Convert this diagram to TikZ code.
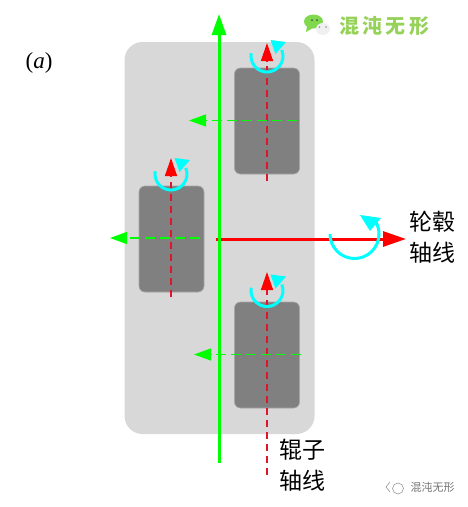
\documentclass[tikz,border=0pt]{standalone}
\usepackage{fontspec}
\setmainfont{Liberation Serif}
\newfontfamily\cjk{Noto Sans CJK SC}
\usetikzlibrary{arrows.meta,calc,positioning}
\definecolor{rlgreen}{RGB}{0,255,0}
\definecolor{rlred}{RGB}{255,0,0}
\definecolor{rldash}{RGB}{225,20,45}
\definecolor{rlcyan}{RGB}{0,255,255}
\definecolor{rlbody}{RGB}{216,216,216}
\definecolor{rlroller}{RGB}{128,128,128}
\definecolor{rlmark}{RGB}{150,210,90}
\newcommand{\spinmark}[1]{%
  \draw[spinarc,shift={#1}] (190:16) arc (190:-22:16);
  \fill[rlcyan,shift={#1}] (3.5,-16)--(19,-14)--(8.5,-2)--cycle;
}
\tikzset{
  rollerbox/.style={draw=black!35,line width=.6pt,fill=rlroller,rounded corners=6pt,minimum width=65pt,minimum height=106pt,inner sep=0pt},
  bigaxis/.style={draw=rlgreen,line width=3pt,-{Triangle[length=21pt,width=14pt]}},
  hubaxis/.style={draw=rlred,line width=3pt,-{Triangle[length=23pt,width=15pt]}},
  rolleraxis/.style={draw=rldash,line width=1.4pt,dash pattern=on 7pt off 5pt,-{Triangle[length=18pt,width=12pt,color=rlred]}},
  slipaxis/.style={draw=rlgreen,line width=1.4pt,dash pattern=on 10pt off 5pt,-{Triangle[length=17pt,width=12pt]}},
  spinarc/.style={draw=rlcyan,line width=3pt},
  axislabel/.style={font=\cjk\fontsize{23}{31}\selectfont,align=left,inner sep=0pt}
}
\begin{document}
\begin{tikzpicture}[x=1pt,y=-1pt]
    \useasboundingbox (0,0) rectangle (468,507);
    \node[fill=rlbody,rounded corners=18pt,minimum width=190pt,minimum height=392pt,inner sep=0pt] (body) at (219.5,238) {};
    \node[rollerbox] (rollertop) at (267,121) {};
    \node[rollerbox] (rollerleft) at (171.5,239) {};
    \node[rollerbox] (rollerbot) at (267,355) {};
    \node[font=\fontsize{23}{25}\selectfont,inner sep=0pt] (tag) at (39,63) {(\textit{a})};
    \node[axislabel,anchor=west] (hublabel) at (409,237) {轮毂\\轴线};
    \node[axislabel,anchor=west] (rollerlabel) at (279,465) {辊子\\轴线};
    % axes of the rollers
    \coordinate (topfoot) at (267,181);
    \coordinate (toptip) at (267,43);
    \coordinate (leftfoot) at (171,297);
    \coordinate (lefttip) at (171,158);
    \coordinate (botfoot) at (267,475);
    \coordinate (bottip) at (267,272);
    \draw[rolleraxis] (topfoot)--(toptip);
    \draw[rolleraxis] (leftfoot)--(lefttip);
    \draw[rolleraxis] (botfoot)--(bottip);
    % slip directions
    \coordinate (topend) at (297,120.5);
    \coordinate (topslip) at (189,120.5);
    \coordinate (leftend) at (200,238);
    \coordinate (leftslip) at (110,238);
    \coordinate (botend) at (301,354.5);
    \coordinate (botslip) at (194,354.5);
    \draw[slipaxis] (topend)--(topslip);
    \draw[slipaxis] (leftend)--(leftslip);
    \draw[slipaxis] (botend)--(botslip);
    % hub and wheel axes
    \coordinate (origin) at (216,239);
    \coordinate (hubtip) at (406,239);
    \coordinate (axisfoot) at (219,463);
    \coordinate (axistip) at (219,14);
    \draw[hubaxis] (origin)--(hubtip);
    \draw[bigaxis] (axisfoot)--(axistip);
    % spins
    \spinmark{(267,56)}
    \spinmark{(171,174)}
    \spinmark{(267,290.5)}
    \draw[spinarc] (330,234) arc (180:-30:24.5);
    \fill[rlcyan] (360,215)--(381,218)--(370,231)--cycle;
    % watermark top
    \fill[rlmark!85!green] (313.5,21.5) ellipse (9.5pt and 7pt);
    \fill[rlmark!85!green] (307,26)--(306,32)--(313,28)--cycle;
    \fill[black!70] (312,20) circle (1pt) (317,20) circle (1pt);
    \fill[black!6] (323,29) ellipse (7pt and 6pt);
    \fill[black!45] (319.5,27) circle (.8pt) (326,27) circle (.8pt);
    \node[font=\cjk\bfseries\fontsize{20}{20}\selectfont,text=rlmark,inner sep=0pt] (brand) at (384,26) {混\,沌\,无\,形};
    % watermark bottom
    \draw[black!40,line width=.6pt] (398,488.5) circle (5.5pt);
    \draw[black!40,line width=.6pt] (390,482)--(386,487)--(390,492);
    \node[font=\cjk\fontsize{11}{12}\selectfont,text=black!55,inner sep=0pt] (brandsmall) at (432.5,487) {混沌无形};
  \end{tikzpicture}
\end{document}
